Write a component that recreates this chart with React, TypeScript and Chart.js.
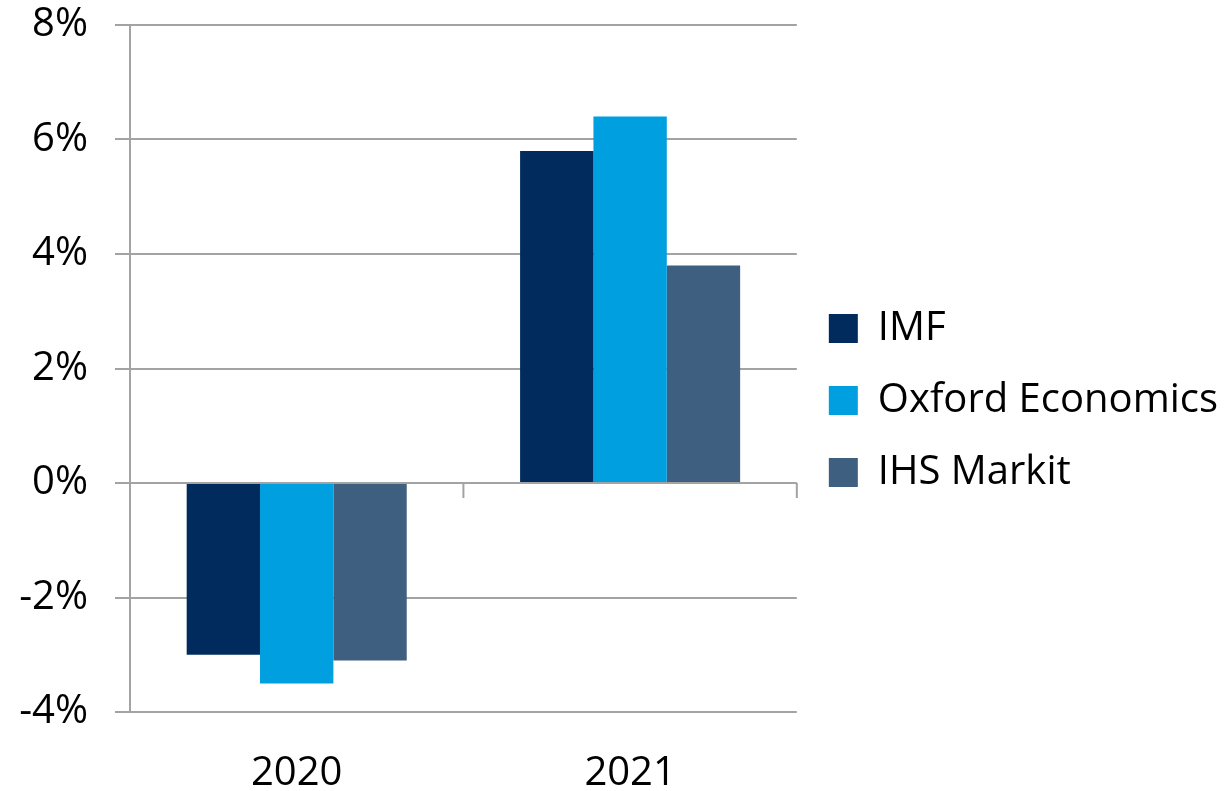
import React, { useEffect, useRef } from "react";
import { Chart, registerables } from "chart.js";

Chart.register(...registerables);

const categories = ["2020", "2021"];
const seriesNames = ["IMF", "Oxford Economics", "IHS Markit"];
const imfValues = [-3.0, 5.8];
const oxfordValues = [-3.5, 6.4];
const ihsValues = [-3.1, 3.8];
const seriesColors = ["#002B5C", "#009FDF", "#3F5F80"];
const yMin = -4;
const yMax = 8;
const yStep = 2;

const FONT = "'Open Sans', sans-serif";
const FONT_SIZE = 40;
const GRID = "#a3a3a3";

const zeroTicks = {
  id: "zeroTicks",
  beforeDatasetsDraw(chart: any) {
    const x = chart.scales.x;
    const y = chart.scales.y;
    const ctx = chart.ctx;
    const y0 = y.getPixelForValue(0);
    const n = categories.length;
    ctx.save();
    ctx.strokeStyle = GRID;
    ctx.lineWidth = 2;
    ctx.beginPath();
    for (let i = 1; i <= n; i++) {
      const px = x.left + (i * (x.right - x.left)) / n;
      ctx.moveTo(px, y0);
      ctx.lineTo(px, y0 + 15);
    }
    ctx.stroke();
    ctx.restore();
  },
};

export default function App() {
  const ref = useRef<HTMLCanvasElement>(null);
  useEffect(() => {
    if (!ref.current) return;
    const values = [imfValues, oxfordValues, ihsValues];
    const chart = new Chart(ref.current, {
      type: "bar",
      data: {
        labels: categories,
        datasets: seriesNames.map((name, i) => ({
          label: name,
          data: values[i],
          backgroundColor: seriesColors[i],
          borderWidth: 0,
          barPercentage: 1,
          categoryPercentage: 0.66,
        })),
      },
      options: {
        animation: false,
        responsive: true,
        maintainAspectRatio: false,
        layout: { padding: { top: 10, left: 0, right: 0, bottom: 0 } },
        plugins: {
          tooltip: { enabled: false },
          legend: {
            position: "right",
            maxWidth: 1000,
            labels: {
              font: { family: FONT, size: FONT_SIZE },
              color: "#000",
              boxWidth: 29,
              boxHeight: 29,
              padding: 32,
            },
          },
        },
        scales: {
          x: {
            grid: { display: false, drawTicks: false },
            border: { display: false },
            ticks: { font: { family: FONT, size: FONT_SIZE }, color: "#000", padding: 38 },
            afterFit: (s: any) => {
              s.height = 79;
            },
          },
          y: {
            min: yMin,
            max: yMax,
            ticks: {
              stepSize: yStep,
              font: { family: FONT, size: FONT_SIZE },
              color: "#000",
              padding: 27,
              callback: (v: any) => `${v}%`,
            },
            grid: { color: GRID, lineWidth: 2, tickLength: 15, tickColor: GRID },
            border: { display: true, color: GRID, width: 2 },
            afterFit: (s: any) => {
              s.width = 130;
              s.paddingTop = 25;
              s.paddingBottom = 0;
            },
          },
        },
      },
      plugins: [zeroTicks],
    });
    return () => chart.destroy();
  }, []);
  return (
    <div style={{ position: "absolute", left: 0, top: 0, width: 1228, height: 791, background: "#fff" }}>
      <canvas ref={ref} />
    </div>
  );
}
